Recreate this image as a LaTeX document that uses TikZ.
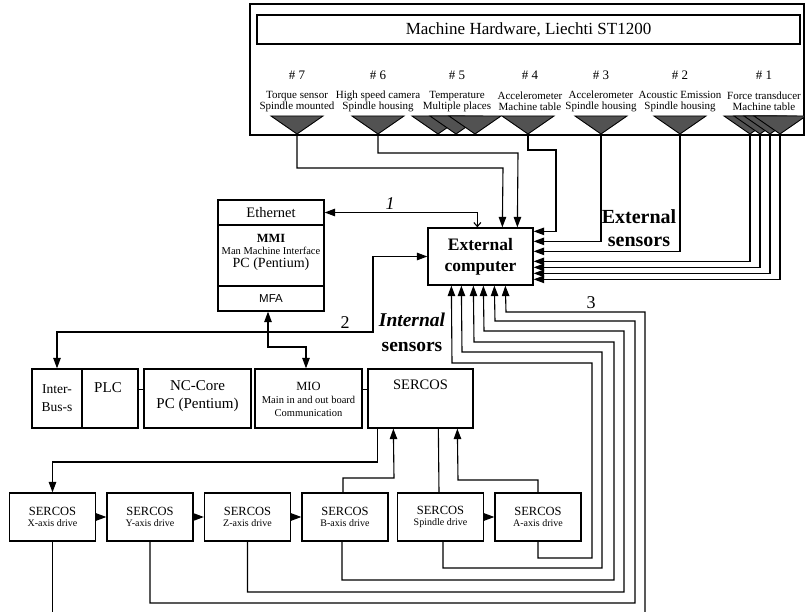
\documentclass[tikz,border=0pt]{standalone}
\usepackage{fontspec}
\setmainfont{Liberation Serif}
\newfontfamily\sansfam{Liberation Sans}
\usetikzlibrary{arrows.meta}
\begin{document}
\begin{tikzpicture}[x=1pt,y=-1pt,
  box/.style={draw,line width=1.3pt,inner sep=0pt,align=center},
  txt/.style={inner sep=0pt,align=center},
  wire/.style={line width=1.1pt},
  arr/.style={wire,-{Triangle[length=10.5pt,width=7.5pt]}},
  arrb/.style={wire,{Triangle[length=10.5pt,width=7.5pt]}-{Triangle[length=10.5pt,width=7.5pt]}},
  sensor/.style={draw,line width=0.9pt,fill=black!68},
  drive/.style={box,minimum width=86pt,minimum height=48pt,font=\fontsize{12.5}{11.5}\selectfont},
  row/.style={box,minimum height=59pt},
]
\fill[white] (0,0) rectangle (805,612);
\useasboundingbox (0,0) rectangle (805,612);

% ---------------- machine hardware ----------------
\node[box,minimum width=554pt,minimum height=131pt] (hw) at (527,69.5) {};
\node[box,minimum width=543pt,minimum height=29pt,font=\fontsize{17}{20}\selectfont] (title) at (528.5,29.5) {Machine Hardware, Liechti ST1200};

\foreach \n/\x/\a/\b in {7/297/Torque sensor/Spindle mounted,
                         6/378/High speed camera/Spindle housing,
                         5/457/Temperature/Multiple places,
                         4/530/Accelerometer/Machine table,
                         3/601/Accelerometer/Spindle housing,
                         2/680/Acoustic Emission/Spindle housing,
                         1/764/Force transducer/Machine table}{
  \node[txt,font=\fontsize{13}{14}\selectfont] (num\n) at (\x,75) {\# \n};
  \node[txt,font=\fontsize{11}{11}\selectfont] (lab\n) at (\x,101.5) {\a\\\b};
}

% sensor symbols
\foreach \c in {297,378,438,456,475,528,601,680,750,760,770,780}{
  \filldraw[sensor] (\c-26,116) -- (\c+26,116) -- (\c,134) -- cycle;
}
\coordinate (s7) at (297,134);
\coordinate (s6) at (378,134);
\coordinate (s4) at (528,134);
\coordinate (s3) at (601,134);
\coordinate (s2) at (680,134);
\coordinate (s1a) at (750,134);
\coordinate (s1b) at (760,134);
\coordinate (s1c) at (770,134);
\coordinate (s1d) at (780,134);

% ---------------- external computer ----------------
\node[box,minimum width=105pt,minimum height=57pt,font=\bfseries\fontsize{17.5}{21}\selectfont] (ext) at (480.5,256.5) {External\\computer};
\node[txt,font=\bfseries\fontsize{20}{23}\selectfont] (extsens) at (639,228) {External\\sensors};
\node[txt,font=\bfseries\fontsize{19.5}{25}\selectfont] (intsens) at (412,332) {\textit{Internal}\\sensors};

% ---------------- MMI PC ----------------
\node[box,minimum width=106pt,minimum height=25pt,font=\fontsize{14.5}{16}\selectfont] (eth) at (271,212.5) {Ethernet};
\node[box,minimum width=106pt,minimum height=61pt] (mmi) at (271,255.5) {};
\node[box,minimum width=106pt,minimum height=25pt,font=\sansfam\fontsize{11.5}{13}\selectfont] (mfa) at (271,298.5) {MFA};
\node[txt,font=\bfseries\fontsize{12.5}{14}\selectfont] (mmiA) at (271,238) {MMI};
\node[txt,font=\fontsize{10.5}{12}\selectfont] (mmiB) at (271,251) {Man Machine Interface};
\node[txt,font=\fontsize{14}{16}\selectfont] (mmiC) at (271,264.5) {PC (Pentium)};

% ---------------- control row ----------------
\node[row,minimum width=50pt] (ibus) at (57,398.5) {};
\node[row,minimum width=56pt] (plc) at (110,398.5) {};
\node[row,minimum width=107pt] (nc) at (197.5,398.5) {};
\node[row,minimum width=107pt] (mio) at (308.5,398.5) {};
\node[row,minimum width=105pt] (sercos) at (420.5,398.5) {};
\node[txt,font=\fontsize{13.5}{18}\selectfont] (ibusT) at (57,398) {Inter-\\Bus-s};
\node[txt,font=\fontsize{15}{18}\selectfont] (plcT) at (108,388) {PLC};
\node[txt,font=\fontsize{15}{18}\selectfont] (ncT) at (197.5,396) {NC-Core\\PC (Pentium)};
\node[txt,font=\fontsize{12.5}{14}\selectfont] (mioA) at (308.5,386) {MIO};
\node[txt,font=\fontsize{10.5}{13}\selectfont] (mioB) at (308.5,406) {Main in and out board\\Communication};
\node[txt,font=\fontsize{14.5}{16}\selectfont] (sercosT) at (420.5,385) {SERCOS};
\draw[wire] ([yshift=9pt]plc.east) -- ([yshift=9pt]nc.west);
\draw[wire] ([yshift=9pt]mio.east) -- ([yshift=9pt]sercos.west);

% ---------------- drives ----------------
\node[drive] (xd) at (52.5,517) {SERCOS\\{\fontsize{10}{11}\selectfont X-axis drive}};
\node[drive] (yd) at (150,517) {SERCOS\\{\fontsize{10}{11}\selectfont Y-axis drive}};
\node[drive] (zd) at (247.5,517) {SERCOS\\{\fontsize{10}{11}\selectfont Z-axis drive}};
\node[drive] (bd) at (345,517) {SERCOS\\{\fontsize{10}{11}\selectfont B-axis drive}};
\node[drive] (sd) at (440.5,517) {SERCOS\\{\fontsize{10}{11}\selectfont Spindle drive}};
\node[drive] (ad) at (538,517) {SERCOS\\{\fontsize{10}{11}\selectfont A-axis drive}};
\draw[arr] (xd) -- (yd);
\draw[arr] (yd) -- (zd);
\draw[arr] (zd) -- (bd);
\draw[arr] (sd) -- (ad);

% SERCOS ring
\draw[arr] ([xshift=10pt]sercos.south west) |- (52.5,462) -- (xd.north);
\draw[arr] ([xshift=-2pt]bd.north) |- (394,478) -- ([xshift=26pt]sercos.south west);
\draw[wire] ([xshift=-1.5pt]sd.north) -- ([xshift=71pt]sercos.south west);
\draw[arr] (ad.north) |- (458,480) -- ([xshift=90pt]sercos.south west);

% ---------------- external sensors ----------------
\draw[arr] (s7) |- (503,168) -- ([xshift=75pt]ext.north west);
\draw[arr] (s6) |- (518,153) -- ([xshift=90pt]ext.north west);
\draw[arr] (s4) |- (556,150) |- ([yshift=-4pt]ext.north east);
\draw[arr] (s3) |- ([yshift=-14pt]ext.north east);
\draw[arr] (s2) |- ([yshift=-24pt]ext.north east);
\draw[arr] (s1a) |- ([yshift=-34pt]ext.north east);
\draw[arr] (s1b) |- ([yshift=-40pt]ext.north east);
\draw[arr] (s1c) |- ([yshift=-46pt]ext.north east);
\draw[arr] (s1d) |- ([yshift=-52pt]ext.north east);

% ---------------- links 1 and 2 ----------------
\draw[wire,{Triangle[length=10.5pt,width=7.5pt]}-{Straight Barb[length=4pt,width=7pt]}] (eth.east) -| ([xshift=50pt]ext.north west);
\node[txt,font=\itshape\fontsize{18}{20}\selectfont] (one) at (390,204) {1};
\coordinate (c2) at (373,332);
\draw[arrb] (ibus.north) |- (c2) |- (ext.west);
\node[txt,font=\fontsize{18}{20}\selectfont] (two) at (345,323) {2};
\draw[arrb] ([xshift=-3pt]mfa.south) |- (306,347) -- (mio.north -| 306,0);

% ---------------- internal sensors ----------------
\draw[arr] (ad.south) |- (592,558) |- (452,363) -- ([xshift=24pt]ext.south west);
\draw[arr] ([xshift=2.5pt]sd.south) |- (602,568) |- (462,352) -- ([xshift=34pt]ext.south west);
\draw[arr] ([xshift=-3pt]bd.south) |- (614,580) |- (474,342) -- ([xshift=46pt]ext.south west);
\draw[arr] (zd.south) |- (624,592) |- (484,331) -- ([xshift=56pt]ext.south west);
\draw[arr] (yd.south) |- (635,603) |- (495,321) -- ([xshift=67pt]ext.south west);
\coordinate (xend) at (52.5,612);
\coordinate (rend) at (645,612);
\draw[wire] (xd.south) -- (xend);
\draw[arr] (rend) |- (506,312) -- ([xshift=78pt]ext.south west);
\node[txt,font=\fontsize{18}{20}\selectfont] (three) at (591,303) {3};
\end{tikzpicture}
\end{document}
